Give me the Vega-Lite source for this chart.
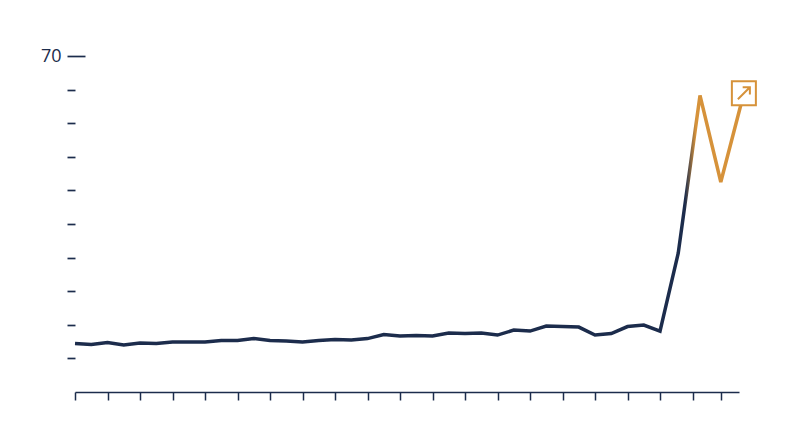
{
  "$schema": "https://vega.github.io/schema/vega-lite/v6.json",
  "width": 664,
  "height": 336,
  "autosize": {"type": "none"},
  "padding": {"left": 75, "top": 56, "right": 61, "bottom": 55},
  "background": "white",
  "config": {"view": {"stroke": null}},
  "data": {
    "values": [
      {"t": 0, "v": 10.09}, {"t": 0.5, "v": 9.88}, {"t": 1, "v": 10.3}, {"t": 1.5, "v": 9.78},
      {"t": 2, "v": 10.19}, {"t": 2.5, "v": 10.09}, {"t": 3, "v": 10.4}, {"t": 3.5, "v": 10.4},
      {"t": 4, "v": 10.4}, {"t": 4.5, "v": 10.71}, {"t": 5, "v": 10.71}, {"t": 5.5, "v": 11.13},
      {"t": 6, "v": 10.71}, {"t": 6.5, "v": 10.61}, {"t": 7, "v": 10.4}, {"t": 7.5, "v": 10.71},
      {"t": 8, "v": 10.92}, {"t": 8.5, "v": 10.82}, {"t": 9, "v": 11.13}, {"t": 9.5, "v": 11.96},
      {"t": 10, "v": 11.65}, {"t": 10.5, "v": 11.75}, {"t": 11, "v": 11.65}, {"t": 11.5, "v": 12.27},
      {"t": 12, "v": 12.17}, {"t": 12.5, "v": 12.27}, {"t": 13, "v": 11.86}, {"t": 13.5, "v": 12.9},
      {"t": 14, "v": 12.69}, {"t": 14.5, "v": 13.73}, {"t": 15, "v": 13.63}, {"t": 15.5, "v": 13.52},
      {"t": 16, "v": 11.86}, {"t": 16.5, "v": 12.17}, {"t": 17, "v": 13.63}, {"t": 17.5, "v": 13.94},
      {"t": 18, "v": 12.69}, {"t": 18.56, "v": 28.92}, {"t": 19.23, "v": 61.78}, {"t": 19.87, "v": 43.75},
      {"t": 20.58, "v": 62.24}
    ]
  },
  "encoding": {
    "x": {
      "field": "t",
      "type": "quantitative",
      "scale": {"domain": [0, 20.43], "nice": false, "zero": false},
      "axis": {
        "title": null,
        "grid": false,
        "labels": false,
        "values": [0, 1, 2, 3, 4, 5, 6, 7, 8, 9, 10, 11, 12, 13, 14, 15, 16, 17, 18, 19, 19.87],
        "domainColor": "#1c2c4c",
        "domainWidth": 1.5,
        "tickColor": "#1c2c4c",
        "tickWidth": 1.5,
        "tickSize": 8
      }
    }
  },
  "layer": [
    {
      "mark": {
        "type": "line",
        "strokeWidth": 3.5,
        "color": {
          "gradient": "linear",
          "x1": 0, "y1": 0, "x2": 1, "y2": 0,
          "stops": [
            {"offset": 0, "color": "#1c2c4c"},
            {"offset": 0.912, "color": "#1c2c4c"},
            {"offset": 0.928, "color": "#d6923a"},
            {"offset": 1, "color": "#d6923a"}
          ]
        }
      },
      "encoding": {
        "y": {
          "field": "v",
          "type": "quantitative",
          "scale": {"domain": [0, 70], "nice": false},
          "axis": {
            "title": null,
            "grid": false,
            "domain": false,
            "labels": false,
            "values": [7, 14, 21, 28, 35, 42, 49, 56, 63],
            "tickColor": "#1c2c4c",
            "tickWidth": 1.7,
            "tickSize": 8
          }
        }
      }
    },
    {
      "transform": [{"filter": "datum.t > 20.5"}],
      "mark": {
        "type": "point",
        "shape": "square",
        "size": 576,
        "filled": true,
        "fill": "white",
        "stroke": "#d6923a",
        "strokeWidth": 2,
        "opacity": 1
      },
      "encoding": {
        "y": {
          "field": "v",
          "type": "quantitative",
          "scale": {"domain": [0, 70], "nice": false},
          "axis": {
            "orient": "left",
            "title": null,
            "grid": false,
            "domain": false,
            "values": [70],
            "offset": -10,
            "tickSize": 18,
            "tickWidth": 1.7,
            "tickColor": "#1c2c4c",
            "labelPadding": 6,
            "labelFont": "Open Sans",
            "labelFontSize": 18,
            "labelColor": "#1c2c4c"
          }
        }
      }
    },
    {
      "transform": [{"filter": "datum.t > 20.5"}],
      "mark": {
        "type": "point",
        "shape": "M -0.5 0.5 L 0.5 -0.5 M -0.1 -0.5 L 0.5 -0.5 L 0.5 0.1",
        "size": 576,
        "filled": false,
        "stroke": "#d6923a",
        "strokeWidth": 2,
        "opacity": 1
      },
      "encoding": {
        "y": {
          "field": "v",
          "type": "quantitative",
          "scale": {"domain": [0, 70], "nice": false},
          "axis": null
        }
      }
    }
  ],
  "resolve": {"axis": {"y": "independent"}}
}
